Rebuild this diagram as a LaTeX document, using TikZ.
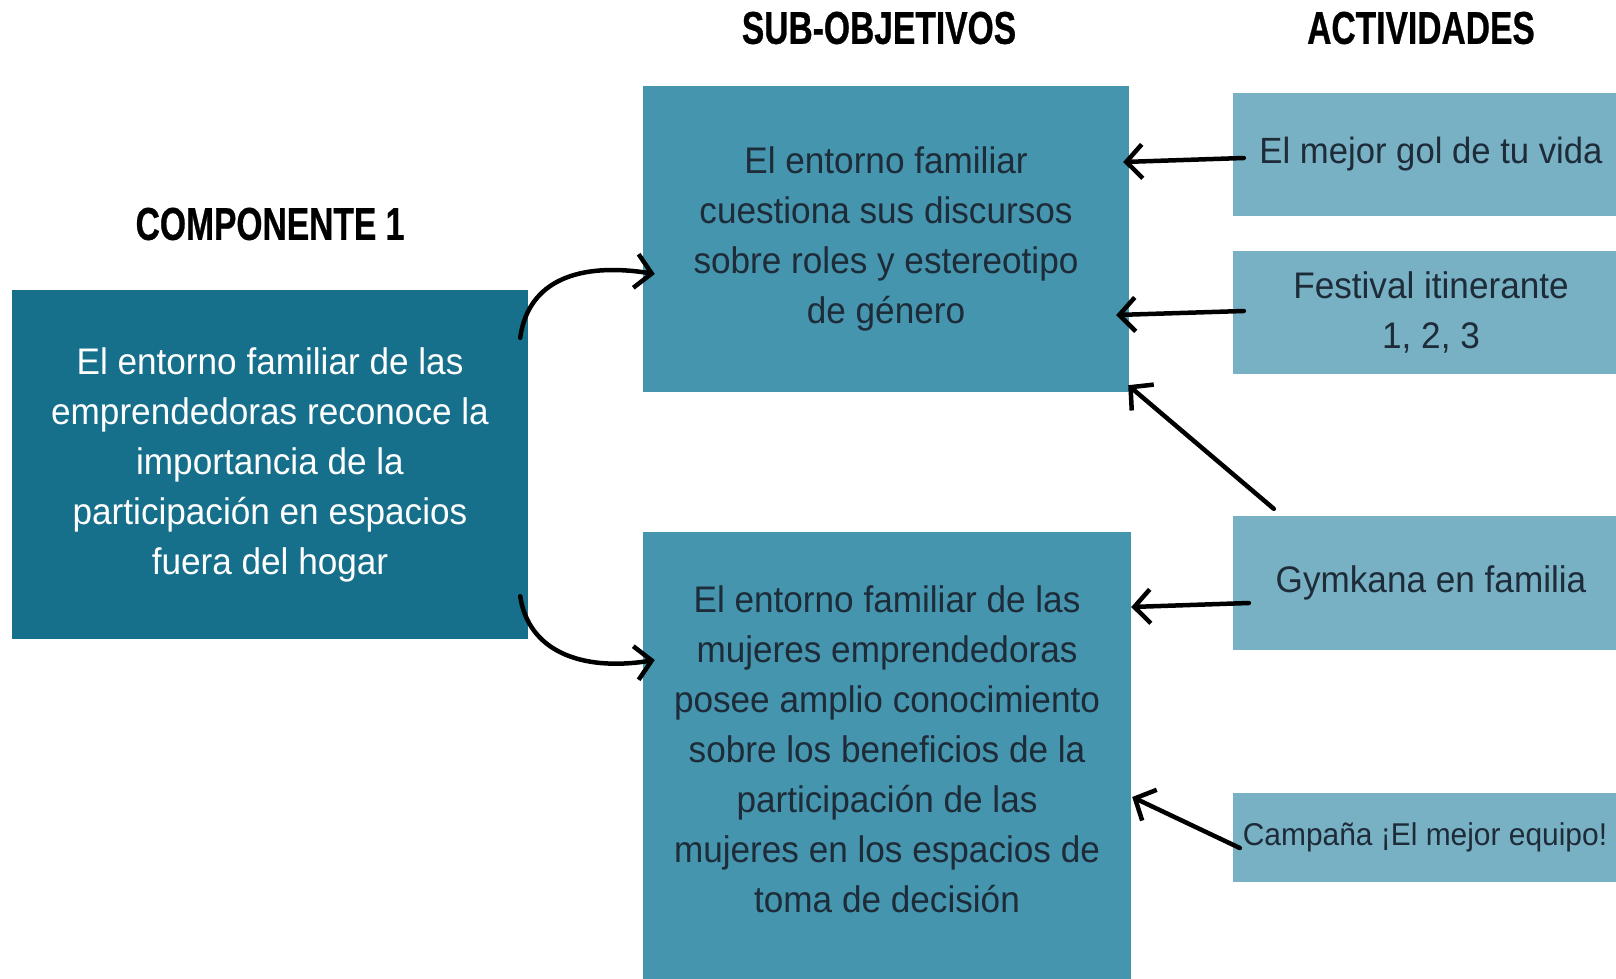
\documentclass[tikz,border=0pt]{standalone}
\usepackage{fontspec}
\setmainfont{Liberation Sans}[FakeStretch=0.95]
\newfontfamily\headfont{Liberation Sans Bold}[FakeStretch=0.73,FakeBold=0.6]
\usetikzlibrary{arrows.meta,calc}
\definecolor{darkteal}{HTML}{16708C}
\definecolor{midteal}{HTML}{4495AD}
\definecolor{lightteal}{HTML}{78B1C4}
\definecolor{ink}{HTML}{1E2B38}
\tikzset{
  box/.style={rectangle, inner sep=0pt, align=center, font=\fontsize{37}{50}\selectfont},
  headtxt/.style={inner sep=0pt, font=\headfont\fontsize{46}{50}\selectfont, text=black},
  arr/.style={draw=black, line width=4.5pt, line cap=round, -{Straight Barb[length=16pt,width=34pt]}}
}
\begin{document}
\begin{tikzpicture}[x=1pt,y=-1pt]
\useasboundingbox (0,0) rectangle (1616,979);
\clip (0,0) rectangle (1616,979);
% headers
\node[headtxt] (h1) at (270,224) {COMPONENTE 1};
\node[headtxt] (h2) at (879,28) {SUB-OBJETIVOS};
\node[headtxt] (h3) at (1421,28) {ACTIVIDADES};
% component
\node[box, fill=darkteal, text=white, minimum width=516pt, minimum height=349pt] (c1) at (270,464.5)
  {El entorno familiar de las\\emprendedoras reconoce la\\importancia de la\\participación en espacios\\fuera del hogar};
% sub-objectives
\node[box, fill=midteal, text=ink, minimum width=486pt, minimum height=306pt] (s1) at (886,239)
  {El entorno familiar\\cuestiona sus discursos\\sobre roles y estereotipo\\de género};
\fill[midteal] (643,700) rectangle (1131,995);
\node[box, fill=midteal, text=ink, minimum width=488pt, minimum height=434pt] (s2) at (887,749)
  {El entorno familiar de las\\mujeres emprendedoras\\posee amplio conocimiento\\sobre los beneficios de la\\participación de las\\mujeres en los espacios de\\toma de decisión};
% activities
\node[box, fill=lightteal, text=ink, minimum width=396pt, minimum height=123pt, font=\fontsize{36.5}{50}\selectfont] (a1) at (1431,154.5)
  {El mejor gol de tu vida};
\node[box, fill=lightteal, text=ink, minimum width=396pt, minimum height=123pt] (a2) at (1431,312.5)
  {Festival itinerante\\1, 2, 3};
\node[box, fill=lightteal, text=ink, minimum width=396pt, minimum height=134pt] (a3) at (1431,583)
  {Gymkana en familia};
\node[box, fill=lightteal, text=ink, minimum width=396pt, minimum height=89pt, font=\fontsize{31.5}{40}\selectfont] (a4) at (1431,837.5)
  {\hspace*{-12pt}Campaña ¡El mejor equipo!};
% curved arrows
\draw[arr] ($(c1.north east)+(-8,48)$) .. controls ($(c1.north east)+(0,-10)$) and ($(s1.west)+(-63,23)$) .. ($(s1.west)+(12,35)$);
\draw[arr] ($(c1.south east)+(-8,-43)$) .. controls ($(c1.south east)+(0,11)$) and ($(s2.west)+(-63,-77)$) .. ($(s2.west)+(12,-89)$);
% activity arrows
\draw[arr] ($(a1.west)+(11,3.5)$) -- ($(s1.east)+(-6,-77)$);
\draw[arr] ($(a2.west)+(11,-1.5)$) -- ($(s1.east)+(-13,76)$);
\draw[arr] ($(a3.north west)+(41,-7)$) -- ($(s1.south east)+(-1,-7)$);
\draw[arr] ($(a3.west)+(16,20)$) -- ($(s2.east)+(0,-142)$);
\draw[arr] ($(a4.west)+(7,10.5)$) -- ($(s2.east)+(1,48)$);
\end{tikzpicture}
\end{document}
